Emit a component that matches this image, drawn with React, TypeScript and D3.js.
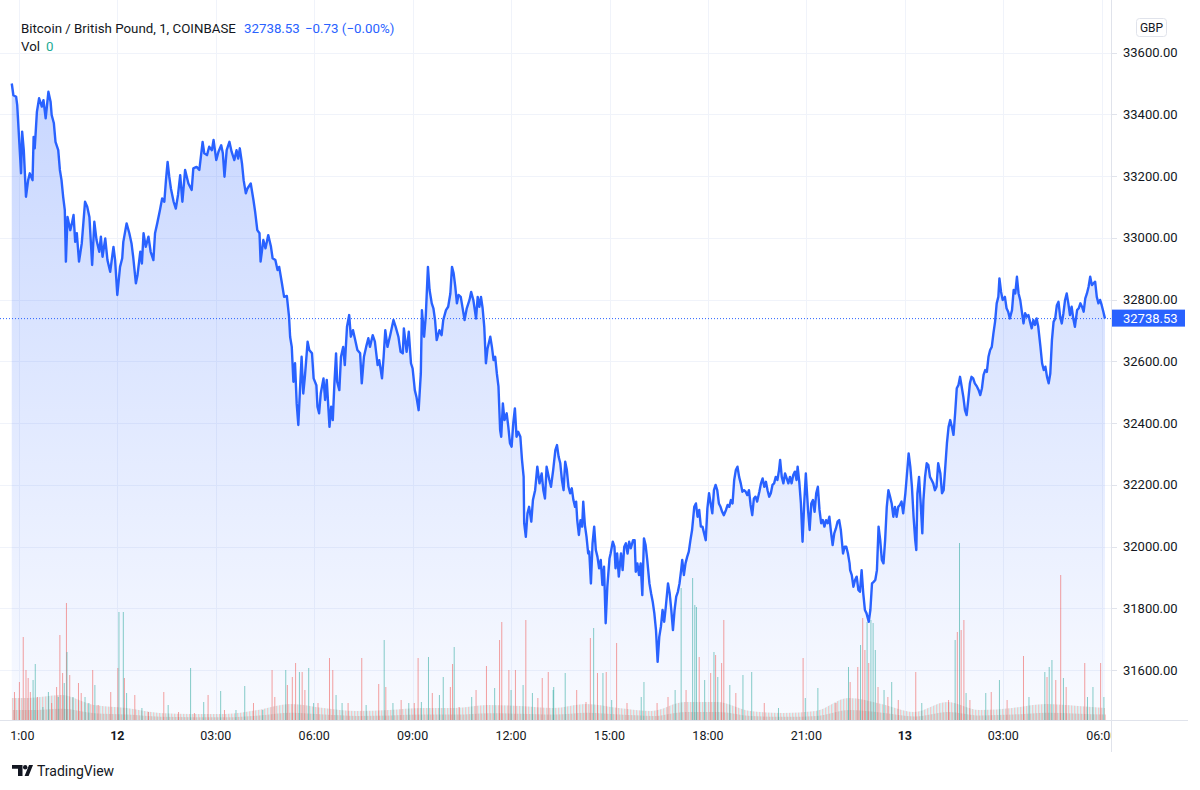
import { useRef, useEffect } from 'react';
import * as d3 from 'd3';

// minutes since the first 1-minute bar (20:47 on the 11th), price in GBP
const priceEvening11: [number, number][] = [
  [0,33500],[3,33462],[8,33457],[10,33430],[17,33209],[19,33344],[22,33284],[26,33133],[30,33187],[33,33209],
  [38,33187],[40,33327],[42,33290],[46,33408],[50,33452],[55,33425],[58,33446],[62,33387],[67,33473],[71,33441],
  [73,33398],[77,33371],[80,33311],[85,33284],[88,33220],[91,33187],[94,33133],[97,33090],[99,32923],[102,33068],
  [107,33025],[110,33047],[113,33074],[116,32987],[119,33015],[123,32923],[128,32982],[134,33117],[138,33101],[142,33068],
  [147,32912],[151,33052],[155,32993],[160,32955],[163,33004],[166,32939],[171,32998],[175,32928],[180,32890],[186,32971],
  [189,32928],[193,32815],[198,32906],[202,32934],[204,32987],[210,33047],[215,33015],[219,32982],[222,32939],[227,32853],
  [230,32880],[235,32955],[238,32917],[241,33015],[245,32971],[250,33004],[254,32955],[259,32928],[262,33015],[266,33047],
  [271,33090],[275,33128],[279,33117],[282,33187],[285,33246],[288,33198],[291,33160],[296,33117],[300,33095],[304,33139],
  [308,33203],[312,33117],[317,33220],[323,33176],[329,33155],[332,33225],[338,33230],[343,33220],[349,33311],[352,33274],
  [357,33268],[361,33295],[366,33284],[369,33317],[374,33252],[378,33279],[383,33300],[386,33274],[389,33198],[393,33284],
  [398,33311],[402,33279],[407,33252],[411,33284],[414,33257],[417,33290],[421,33241],[424,33187],[428,33144],[431,33160],
  [437,33176],[442,33122],[445,33085],[449,33025],[453,33015],[455,32923],[460,32993],[464,32966],[469,33009],[474,32971],
  [477,32934],[482,32928],[486,32896],[489,32906],[494,32853],[498,32809],[503,32812],[507,32745],
];

const priceMorning12: [number, number][] = [
  [509,32680],[512,32647],[515,32534],[518,32594],[521,32464],[524,32394],[527,32507],[530,32615],[533,32496],[536,32550],
  [541,32664],[544,32637],[549,32626],[552,32545],[557,32523],[559,32453],[562,32432],[565,32496],[570,32545],[573,32475],
  [576,32540],[579,32448],[581,32388],[584,32453],[587,32410],[590,32529],[593,32626],[595,32534],[599,32507],[602,32615],
  [606,32647],[609,32588],[613,32712],[617,32750],[620,32680],[624,32701],[628,32669],[632,32637],[637,32626],[640,32529],
  [644,32615],[648,32647],[652,32675],[655,32647],[660,32685],[664,32664],[669,32588],[672,32604],[677,32545],[680,32615],
  [683,32701],[687,32647],[692,32685],[698,32734],[702,32712],[707,32680],[711,32631],[715,32626],[717,32707],[722,32631],
  [726,32696],[730,32594],[733,32577],[737,32507],[740,32485],[744,32442],[748,32561],[750,32766],[754,32680],[757,32745],
  [761,32906],[764,32831],[768,32788],[771,32772],[774,32734],[777,32669],[782,32701],[786,32685],[789,32734],[794,32766],
  [798,32777],[802,32820],[805,32906],[808,32885],[811,32842],[814,32788],[817,32815],[821,32809],[825,32766],[828,32734],
  [832,32772],[837,32799],[840,32825],[844,32799],[849,32739],[852,32809],[855,32777],[858,32809],[861,32772],[864,32712],
  [867,32594],[870,32642],[875,32680],[878,32647],[881,32604],[884,32615],[887,32561],[890,32518],[893,32378],[895,32356],
  [898,32464],[901,32410],[905,32432],[908,32388],[911,32335],[914,32324],[917,32399],[920,32448],[923,32356],[926,32372],
  [930,32356],[933,32281],[936,32226],[937,32076],[940,32032],[943,32108],[946,32129],[950,32081],[953,32151],[957,32183],
  [961,32259],[965,32205],[969,32237],[972,32183],[975,32156],[978,32259],[983,32216],[986,32194],[990,32248],[994,32313],
  [997,32329],[1000,32291],[1003,32270],
];

const priceAfternoon12: [number, number][] = [
  [1006,32216],[1009,32183],[1012,32275],[1015,32248],[1018,32194],[1021,32173],[1024,32189],[1027,32151],[1030,32129],[1032,32146],
  [1034,32086],[1037,32038],[1040,32086],[1043,32065],[1045,32146],[1048,32070],[1051,32032],[1054,31978],[1056,31984],[1059,31881],
  [1062,32011],[1065,32065],[1068,31989],[1071,31967],[1074,31930],[1077,31957],[1080,31876],[1083,31935],[1086,31752],[1089,31870],
  [1093,31962],[1095,31978],[1099,32016],[1102,32000],[1104,31930],[1107,31978],[1110,31903],[1114,31978],[1117,31924],[1120,32000],
  [1123,32011],[1126,31978],[1129,32016],[1132,31995],[1136,32021],[1139,32021],[1141,31919],[1144,31946],[1147,31908],[1150,31946],
  [1153,31843],[1156,32027],[1159,32005],[1162,31957],[1166,31881],[1169,31849],[1172,31822],[1175,31784],[1178,31730],[1181,31627],
  [1184,31708],[1187,31741],[1190,31795],[1193,31757],[1196,31806],[1200,31881],[1203,31849],[1206,31795],[1209,31730],[1212,31795],
  [1215,31838],[1218,31854],[1221,31881],[1224,31924],[1226,31957],[1229,31908],[1232,31946],[1235,31967],[1238,31984],[1241,32021],
  [1244,32054],[1248,32129],[1251,32140],[1254,32097],[1257,32119],[1260,32065],[1263,32065],[1266,32043],[1269,32021],[1272,32124],
  [1275,32173],[1278,32140],[1281,32108],[1284,32183],[1287,32200],[1290,32183],[1293,32140],[1296,32129],[1299,32113],[1302,32102],
  [1306,32119],[1309,32135],[1312,32129],[1315,32151],[1318,32140],[1321,32216],[1324,32248],[1327,32259],[1330,32226],[1333,32205],
  [1336,32178],[1339,32183],[1342,32178],[1345,32167],[1348,32183],[1351,32135],[1354,32102],[1357,32156],[1360,32162],[1363,32146],
  [1367,32178],[1370,32205],[1373,32221],[1376,32194],[1379,32210],[1382,32183],[1385,32162],[1388,32173],[1391,32200],[1394,32205],
  [1397,32226],[1400,32216],[1403,32248],[1405,32281],[1408,32226],[1411,32205],[1414,32237],[1417,32221],[1420,32205],[1423,32226],
  [1426,32205],[1429,32232],[1432,32243],[1435,32216],[1437,32259],[1440,32210],[1443,32140],[1446,32016],[1449,32140],[1452,32237],
  [1456,32119],[1459,32054],[1462,32140],[1465,32151],[1468,32113],[1471,32173],[1474,32194],[1477,32119],[1480,32076],[1483,32086],
  [1486,32065],[1489,32086],[1492,32076],[1495,32097],[1498,32048],[1501,32005],[1504,32043],[1507,32059],[1510,32081],[1513,32086],
  [1516,32054],[1520,31978],[1523,32000],[1526,32000],[1529,31978],[1532,31946],
];

const priceNight13: [number, number][] = [
  [1533,31924],[1536,31908],[1539,31870],[1542,31892],[1545,31903],[1548,31860],[1551,31854],[1554,31924],[1557,31849],[1560,31795],
  [1563,31784],[1567,31757],[1570,31795],[1573,31881],[1576,31886],[1579,31892],[1582,31924],[1585,32065],[1588,32021],[1591,31957],
  [1594,31946],[1597,32021],[1600,32129],[1603,32183],[1606,32162],[1609,32140],[1612,32097],[1615,32129],[1618,32097],[1621,32129],
  [1624,32135],[1627,32146],[1630,32108],[1634,32173],[1637,32237],[1640,32302],[1643,32259],[1646,32194],[1649,32097],[1652,32021],
  [1654,31989],[1656,32173],[1659,32226],[1662,32140],[1665,32043],[1667,32151],[1670,32226],[1673,32270],[1676,32264],[1679,32226],
  [1682,32216],[1685,32205],[1688,32183],[1691,32194],[1694,32270],[1698,32237],[1701,32173],[1704,32183],[1707,32259],[1710,32335],
  [1713,32388],[1716,32410],[1719,32388],[1722,32362],[1725,32432],[1728,32513],[1731,32523],[1734,32550],[1737,32518],[1740,32485],
  [1743,32442],[1746,32426],[1749,32475],[1752,32529],[1755,32550],[1758,32545],[1761,32529],[1765,32518],[1768,32507],[1771,32491],
  [1774,32513],[1777,32556],[1780,32572],[1783,32566],[1786,32615],[1789,32637],[1792,32647],[1795,32691],[1798,32728],[1801,32788],
  [1804,32809],[1806,32869],[1809,32825],[1812,32799],[1816,32809],[1819,32772],[1822,32761],[1825,32739],[1829,32766],[1832,32831],
  [1835,32820],[1838,32874],[1841,32820],[1844,32799],[1847,32761],[1850,32723],[1853,32756],[1856,32745],[1859,32750],[1862,32728],
  [1865,32707],[1868,32734],[1871,32718],[1874,32739],[1877,32712],[1881,32647],[1884,32594],[1887,32572],[1890,32583],[1893,32550],
  [1896,32529],[1899,32561],[1902,32669],[1905,32728],[1908,32739],[1911,32782],[1914,32793],[1917,32745],[1920,32723],[1923,32756],
  [1926,32799],[1929,32820],[1932,32788],[1935,32750],[1938,32777],[1941,32739],[1944,32712],[1948,32766],[1951,32772],[1954,32788],
  [1957,32777],[1960,32761],[1963,32804],[1966,32820],[1969,32842],[1972,32874],[1975,32847],[1978,32853],[1981,32858],[1984,32809],
  [1987,32788],[1990,32799],[1993,32782],[1996,32761],[1999,32738.53],
];

// volume spikes: [minute, volume, 1 = up bar / 0 = down bar]
const volumeBars: [number, number, number][] = [
  [5,1.4,0],[14,1.9,0],[21,4.15,0],[26,2.5,0],[30,2.1,0],[34,1.4,0],[39,2.0,1],[43,2.8,1],[47,1.15,0],[57,0.65,1],
  [67,1.4,1],[73,0.85,0],[82,1.65,0],[85,1.15,1],[88,4.25,0],[93,2.35,0],[96,1.85,1],[100,5.85,0],[101,3.4,1],[106,2.25,0],
  [112,1.15,1],[122,1.85,0],[127,1.35,0],[134,1.15,1],[141,0.85,1],[148,2.5,0],[152,1.75,1],[158,0.75,0],[181,1.4,0],[194,2.6,0],
  [196,5.4,1],[204,5.4,1],[206,2.1,0],[210,1.35,1],[225,1.25,0],[238,0.6,1],[250,0.4,0],[278,1.4,0],[286,0.75,1],[305,0.4,0],
  [327,2.6,1],[334,0.35,0],[351,0.9,1],[359,1.25,0],[382,1.45,1],[389,0.5,0],[410,0.5,1],[426,1.7,1],[442,0.85,0],[459,0.5,1],
  [476,2.5,0],[481,1.15,0],[501,2.5,1],[504,1.75,0],[513,2.15,0],[519,2.85,0],[526,2.4,1],[531,2.4,0],[536,1.5,0],[543,2.6,1],
  [552,0.85,1],[560,0.85,0],[581,3.1,0],[587,2.5,0],[593,1.25,1],[604,0.85,1],[615,0.85,0],[640,3.1,0],[648,0.75,1],[671,1.8,0],
  [681,4.0,1],[684,1.65,0],[697,0.85,1],[712,1.0,0],[726,0.85,1],[736,0.85,0],[743,3.1,0],[749,0.9,1],[762,3.15,1],[769,1.35,0],
  [782,1.25,1],[789,2.15,1],[802,1.65,0],[806,2.8,0],[809,3.65,1],[818,0.65,0],[841,1.15,1],[849,1.5,0],[868,2.7,0],[883,1.6,1],
  [892,4.0,0],[896,4.9,0],[909,2.5,0],[913,1.5,1],[921,2.5,0],[935,1.75,1],[940,5.0,0],[952,1.35,1],[962,1.1,0],[970,2.1,0],
  [981,2.4,0],[990,1.5,1],[991,1.65,1],[1012,2.35,1],[1033,1.5,0],[1050,0.9,0],[1058,4.1,0],[1064,4.6,1],[1071,2.35,0],[1081,2.35,1],
  [1087,2.4,0],[1097,1.0,1],[1106,3.85,0],[1125,0.85,0],[1151,1.15,1],[1156,1.9,1],[1180,0.85,0],[1200,1.15,0],[1213,1.5,1],[1224,6.6,1],
  [1233,1.5,0],[1245,7.1,1],[1249,5.75,1],[1252,5.65,1],[1257,3.15,0],[1267,2.0,1],[1278,2.35,0],[1284,3.4,1],[1287,3.25,0],[1291,2.15,1],
  [1298,2.85,0],[1302,5.0,0],[1313,1.75,1],[1324,1.35,0],[1337,2.25,1],[1353,2.4,1],[1376,0.85,0],[1402,0.6,1],[1447,3.1,0],[1451,1.1,1],
  [1474,1.6,1],[1507,0.85,0],[1530,2.65,1],[1533,1.9,0],[1547,2.65,0],[1552,3.75,1],[1556,5.1,0],[1560,3.5,0],[1564,4.9,1],[1567,2.85,0],
  [1571,5.0,1],[1575,4.85,1],[1579,3.5,1],[1584,1.65,0],[1595,1.5,1],[1602,1.15,0],[1609,1.9,1],[1621,1.0,0],[1653,2.4,0],[1664,0.85,1],
  [1713,1.0,0],[1725,4.0,1],[1729,4.4,0],[1733,8.85,1],[1736,4.5,0],[1741,5.0,0],[1745,1.35,1],[1752,1.0,0],[1781,1.35,1],[1791,1.4,0],
  [1806,2.0,1],[1820,1.0,0],[1850,3.2,0],[1860,1.15,1],[1889,2.4,1],[1893,2.15,0],[1897,2.65,1],[1902,3.0,1],[1909,2.0,0],[1918,7.25,0],
  [1923,2.1,1],[1928,1.65,0],[1962,2.85,0],[1967,1.15,1],[1977,1.65,1],[1991,2.85,0],[1997,1.15,1],
];

// typical height of the dense small-volume bars, one value per hour from the first bar
const volumeFloor = [
  1.1,1.25,0.75,0.6,0.35,0.3,0.3,0.5,0.8,0.6,0.45,0.5,0.6,0.6,0.75,0.7,0.6,0.8,0.6,0.45,
  0.9,0.9,0.45,0.35,0.45,1.1,0.8,0.4,0.9,0.5,0.6,0.8,0.7,0.6,
];

const priceTicks = [31600, 31800, 32000, 32200, 32400, 32600, 32800, 33000, 33200, 33400, 33600];
// minutes relative to 00:00 on the 12th
const timeTickMinutes = [-180, 0, 180, 360, 540, 720, 900, 1080, 1260, 1440, 1620, 1800];
const timeTickLabels = ['21:00', '12', '03:00', '06:00', '09:00', '12:00', '15:00', '18:00', '21:00', '13', '03:00', '06:00'];

const firstBarOffset = -193; // first bar is 193 minutes before midnight
const lastPrice = 32738.53;

const FONT = "Roboto, 'Noto Sans', 'DejaVu Sans', sans-serif";
const TEXT = '#131722';
const BLUE = '#2962ff';

const App = () => {
  const svgRef = useRef<SVGSVGElement>(null);

  useEffect(() => {
    const svg = d3.select(svgRef.current);
    svg.selectAll('*').remove();

    const paneRight = 1111;
    const paneBottom = 720;

    const x = d3.scaleLinear().domain([0, 1800]).range([117.3, 1101.7]);
    const y = d3.scaleLinear().domain([31600, 33600]).range([670.2, 52.6]);
    const yVol = d3.scaleLinear().domain([0, 9]).range([paneBottom, paneBottom - 180]);
    const xm = (m: number) => x(m + firstBarOffset);

    const prices = [...priceEvening11, ...priceMorning12, ...priceAfternoon12, ...priceNight13];

    const defs = svg.append('defs');
    defs.append('clipPath').attr('id', 'pane')
      .append('rect').attr('x', 0).attr('y', 0).attr('width', paneRight).attr('height', paneBottom);
    defs.append('clipPath').attr('id', 'timeAxis')
      .append('rect').attr('x', 10).attr('y', paneBottom).attr('width', paneRight - 10).attr('height', 40);

    const grad = defs.append('linearGradient').attr('id', 'areaFill')
      .attr('gradientUnits', 'userSpaceOnUse')
      .attr('x1', 0).attr('x2', 0).attr('y1', 80).attr('y2', paneBottom);
    grad.append('stop').attr('offset', 0).attr('stop-color', BLUE).attr('stop-opacity', 0.26);
    grad.append('stop').attr('offset', 1).attr('stop-color', BLUE).attr('stop-opacity', 0.03);

    const stripes = defs.append('pattern').attr('id', 'volStripes')
      .attr('patternUnits', 'userSpaceOnUse').attr('width', 3).attr('height', 4);
    stripes.append('rect').attr('width', 0.8).attr('height', 4).attr('fill', 'rgba(239,83,80,0.38)');
    stripes.append('rect').attr('x', 1.5).attr('width', 0.8).attr('height', 4).attr('fill', 'rgba(38,166,154,0.34)');

    svg.append('rect').attr('width', 1200).attr('height', 790).attr('fill', '#ffffff');

    const pane = svg.append('g').attr('clip-path', 'url(#pane)');

    // grid
    pane.selectAll('line.hgrid')
      .data(priceTicks)
      .enter()
      .append('line')
      .attr('x1', 0).attr('x2', paneRight)
      .attr('y1', d => Math.round(y(d)) + 0.5).attr('y2', d => Math.round(y(d)) + 0.5)
      .attr('stroke', '#f0f3fa');
    pane.selectAll('line.vgrid')
      .data(timeTickMinutes)
      .enter()
      .append('line')
      .attr('x1', d => Math.round(x(d)) + 0.5).attr('x2', d => Math.round(x(d)) + 0.5)
      .attr('y1', 0).attr('y2', paneBottom)
      .attr('stroke', '#f0f3fa');

    // area under price
    const area = d3.area<[number, number]>()
      .x(d => xm(d[0]))
      .y0(paneBottom)
      .y1(d => y(d[1]));
    pane.append('path').datum(prices).attr('d', area).attr('fill', 'url(#areaFill)');

    // dense low volume band, denser near the base
    const floorPts: [number, number][] = volumeFloor.map((v, i) => [Math.min(i * 60 + 30, 1999), v]);
    floorPts.unshift([0, volumeFloor[0]]);
    floorPts.push([1999, volumeFloor[volumeFloor.length - 1]]);
    const floorArea = (k: number) => d3.area<[number, number]>()
      .x(d => xm(d[0]))
      .y0(paneBottom)
      .y1(d => yVol(d[1] * k))
      .curve(d3.curveMonotoneX);
    pane.append('path').datum(floorPts).attr('d', floorArea(1)).attr('fill', 'url(#volStripes)');
    pane.append('path').datum(floorPts).attr('d', floorArea(0.45))
      .attr('fill', 'url(#volStripes)').attr('transform', 'translate(1,0)');

    // volume spikes
    pane.selectAll('rect.vol')
      .data(volumeBars)
      .enter()
      .append('rect')
      .attr('x', d => xm(d[0]) - 0.5)
      .attr('width', 1)
      .attr('y', d => yVol(d[1]))
      .attr('height', d => paneBottom - yVol(d[1]))
      .attr('fill', d => (d[2] ? 'rgba(38,166,154,0.55)' : 'rgba(239,83,80,0.55)'));

    // price line
    const line = d3.line<[number, number]>()
      .x(d => xm(d[0]))
      .y(d => y(d[1]));
    pane.append('path').datum(prices)
      .attr('d', line)
      .attr('fill', 'none')
      .attr('stroke', BLUE)
      .attr('stroke-width', 2.4)
      .attr('stroke-linejoin', 'round');

    // last price dotted line
    pane.append('line')
      .attr('x1', 0).attr('x2', paneRight)
      .attr('y1', y(lastPrice)).attr('y2', y(lastPrice))
      .attr('stroke', BLUE).attr('stroke-width', 1).attr('stroke-dasharray', '1 2');

    // separators
    svg.append('line')
      .attr('x1', paneRight + 0.5).attr('x2', paneRight + 0.5).attr('y1', 0).attr('y2', 752)
      .attr('stroke', '#e0e3eb');
    svg.append('line')
      .attr('x1', 0).attr('x2', 1188).attr('y1', paneBottom + 0.5).attr('y2', paneBottom + 0.5)
      .attr('stroke', '#e0e3eb');

    // price axis
    const yAxis = svg.append('g');
    yAxis.selectAll('line')
      .data(priceTicks)
      .enter()
      .append('line')
      .attr('x1', paneRight + 1).attr('x2', paneRight + 6)
      .attr('y1', d => Math.round(y(d)) + 0.5).attr('y2', d => Math.round(y(d)) + 0.5)
      .attr('stroke', '#e0e3eb');
    yAxis.selectAll('text')
      .data(priceTicks)
      .enter()
      .append('text')
      .attr('x', 1123)
      .attr('y', d => y(d))
      .attr('dy', '0.35em')
      .attr('font-family', FONT)
      .attr('font-size', 13)
      .attr('fill', TEXT)
      .text(d => d3.format('.2f')(d));

    // last price label
    svg.append('rect')
      .attr('x', paneRight + 1).attr('y', y(lastPrice) - 9)
      .attr('width', 73).attr('height', 17)
      .attr('fill', BLUE);
    svg.append('text')
      .attr('x', 1123).attr('y', y(lastPrice))
      .attr('dy', '0.35em')
      .attr('font-family', FONT).attr('font-size', 13)
      .attr('fill', '#ffffff')
      .text(d3.format('.2f')(lastPrice));

    // currency badge
    svg.append('rect')
      .attr('x', 1136.5).attr('y', 18.5).attr('width', 30).attr('height', 18).attr('rx', 3)
      .attr('fill', '#ffffff').attr('stroke', '#e0e3eb');
    svg.append('text')
      .attr('x', 1151.5).attr('y', 27.5).attr('dy', '0.35em')
      .attr('text-anchor', 'middle')
      .attr('font-family', FONT).attr('font-size', 12).attr('fill', TEXT)
      .text('GBP');

    // time axis
    svg.append('g').attr('clip-path', 'url(#timeAxis)')
      .selectAll('text')
      .data(timeTickMinutes)
      .enter()
      .append('text')
      .attr('x', d => x(d))
      .attr('y', 736)
      .attr('dy', '0.35em')
      .attr('text-anchor', 'middle')
      .attr('font-family', FONT)
      .attr('font-size', 12.5)
      .attr('font-weight', (_, i) => (timeTickLabels[i].length <= 2 ? 'bold' : 'normal'))
      .attr('fill', TEXT)
      .text((_, i) => timeTickLabels[i]);

    // legend
    const legend = svg.append('text')
      .attr('x', 21).attr('y', 33)
      .attr('font-family', FONT).attr('font-size', 13.3).attr('fill', TEXT);
    legend.append('tspan').text('Bitcoin / British Pound, 1, COINBASE');
    legend.append('tspan').attr('x', 244).attr('fill', BLUE).text(d3.format('.2f')(lastPrice));
    legend.append('tspan').attr('x', 305).attr('fill', BLUE).text('\u22120.73 (\u22120.00%)');

    const vol = svg.append('text')
      .attr('x', 21).attr('y', 51)
      .attr('font-family', FONT).attr('font-size', 13.3).attr('fill', TEXT);
    vol.append('tspan').text('Vol');
    vol.append('tspan').attr('x', 46).attr('fill', '#22ab94').text('0');

    // TradingView mark
    const logo = svg.append('g').attr('fill', TEXT);
    logo.append('path').attr('d', 'M12 765 H22.5 V776 H18 V768.8 H12 Z');
    logo.append('circle').attr('cx', 25.2).attr('cy', 767.3).attr('r', 2.2);
    logo.append('path').attr('d', 'M29 765 H33 L28.6 776 H24.6 Z');
    svg.append('text')
      .attr('x', 37).attr('y', 776)
      .attr('font-family', FONT).attr('font-size', 14).attr('fill', TEXT)
      .text('TradingView');
  }, []);

  return (
    <svg
      ref={svgRef}
      width={1200}
      height={790}
      style={{ position: 'absolute', left: 0, top: 0 }}
    ></svg>
  );
};

export default App;
